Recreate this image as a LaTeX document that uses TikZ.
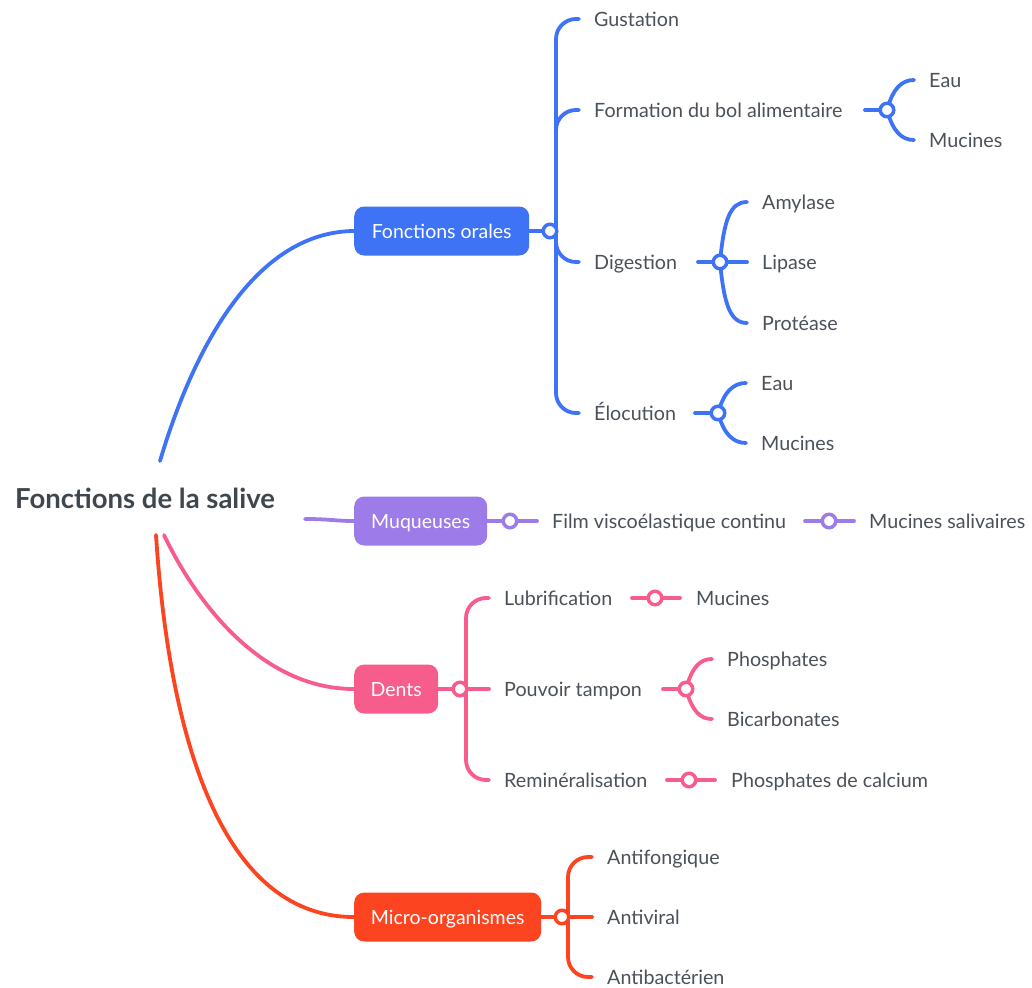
\documentclass[tikz,border=0pt]{standalone}
\usepackage{fontspec}
\setmainfont{Lato}
\pgfdeclarelayer{bg}
\pgfsetlayers{bg,main}
\definecolor{cblue}{HTML}{3E73F5}
\definecolor{cpurple}{HTML}{9D7BE9}
\definecolor{cpink}{HTML}{F65C8C}
\definecolor{cred}{HTML}{FC4421}
\definecolor{tgray}{HTML}{4B5158}
\definecolor{rgray}{HTML}{3F464D}
\begin{document}
\begin{tikzpicture}[x=1pt,y=-1pt,
  lbl/.style={anchor=west, inner sep=0pt, text height=14.1pt, text depth=0pt, text=tgray, font=\fontsize{19.7}{23}\selectfont},
  box/.style={anchor=west, rounded corners=10pt, minimum height=49pt, inner sep=0pt, text=white, text height=14pt, text depth=0pt, font=\fontsize{19.5}{23}\selectfont},
  jn/.style={circle, draw=#1, line width=3.5pt, fill=white, minimum size=13.5pt, inner sep=0pt},
  ln/.style={draw=#1, line width=3.8pt, line cap=round, rounded corners=20pt}]
\useasboundingbox (0,0) rectangle (1032,987);

% root
\node[anchor=west, inner sep=0pt, text height=19.7pt, text depth=0pt, text=rgray, font=\bfseries\fontsize{27.5}{32}\selectfont] (root) at (15,498.5) {Fonctions de la salive};
\coordinate (rb) at (160,461);
\coordinate (rp) at (305,519);
\coordinate (rk) at (164,535);
\coordinate (rr) at (156,535);

% main boxes
\node[box, fill=cblue, minimum width=175pt] (orales) at (354,231) {Fonctions orales};
\node[box, fill=cpurple, minimum width=133pt] (muq) at (354,521) {Muqueuses};
\node[box, fill=cpink, minimum width=84pt] (dents) at (354,689) {Dents};
\node[box, fill=cred, minimum width=187pt] (micro) at (354,917) {Micro-organismes};

% junctions
\node[jn=cblue] (jor) at (550,231) {};
\node[jn=cblue] (jbol) at (887,110) {};
\node[jn=cblue] (jdig) at (720,262) {};
\node[jn=cblue] (jelo) at (718,413) {};
\node[jn=cpurple] (jmuq) at (510,521) {};
\node[jn=cpurple] (jfilm) at (829,521) {};
\node[jn=cpink] (jden) at (460,689) {};
\node[jn=cpink] (jlub) at (655,598) {};
\node[jn=cpink] (jpou) at (686,689) {};
\node[jn=cpink] (jrem) at (689,780) {};
\node[jn=cred] (jmic) at (562,917) {};

% labels
\node[lbl] (gus) at (594,19) {Gustation};
\node[lbl] (bol) at (594,110) {Formation du bol alimentaire};
\node[lbl] (eau1) at (929,80) {Eau};
\node[lbl] (muc1) at (929,140) {Mucines};
\node[lbl] (dig) at (594,262) {Digestion};
\node[lbl] (amy) at (762,202) {Amylase};
\node[lbl] (lip) at (762,262) {Lipase};
\node[lbl] (pro) at (762,323) {Protéase};
\node[lbl] (elo) at (594,413) {Élocution};
\node[lbl] (eau2) at (761,383) {Eau};
\node[lbl] (muc2) at (761,443) {Mucines};
\node[lbl] (film) at (552,521) {Film viscoélastique continu};
\node[lbl] (musal) at (869,521) {Mucines salivaires};
\node[lbl] (lub) at (504,598) {Lubrification};
\node[lbl] (muc3) at (696,598) {Mucines};
\node[lbl] (pou) at (504,689) {Pouvoir tampon};
\node[lbl] (pho) at (727,659) {Phosphates};
\node[lbl] (bic) at (727,719) {Bicarbonates};
\node[lbl] (rem) at (504,780) {Reminéralisation};
\node[lbl] (phc) at (731,780) {Phosphates de calcium};
\node[lbl] (afo) at (607,857) {Antifongique};
\node[lbl] (avi) at (607,917) {Antiviral};
\node[lbl] (aba) at (607,977) {Antibactérien};

\begin{pgfonlayer}{bg}
% root connectors
\draw[ln=cblue] (rb) .. controls (190,360) and (250,232) .. (orales.west);
\draw[ln=cpurple] (rp) .. controls (330,519) and (335,521) .. (muq.west);
\draw[ln=cpink] (rk) .. controls (195,600) and (260,689) .. (dents.west);
\draw[ln=cred] (rr) .. controls (168,720) and (215,917) .. (micro.west);

% Fonctions orales
\draw[ln=cblue] (orales.east) -- (jor.center);
\draw[ln=cblue] ([xshift=6pt]jor.center) |- ([xshift=-15pt]gus.west);
\draw[ln=cblue] ([xshift=6pt]jor.center) |- ([xshift=-15pt]bol.west);
\draw[ln=cblue] ([xshift=6pt]jor.center) |- ([xshift=-15pt]dig.west);
\draw[ln=cblue] ([xshift=6pt]jor.center) |- ([xshift=-15pt]elo.west);
\draw[ln=cblue] ([xshift=-22pt]jbol.center) -- (jbol.center);
\draw[ln=cblue] (jbol.center) .. controls +(6,-22) and +(-12,0) .. ([xshift=-15pt]eau1.west);
\draw[ln=cblue] (jbol.center) .. controls +(6,22) and +(-12,0) .. ([xshift=-15pt]muc1.west);
\draw[ln=cblue] ([xshift=-22pt]jdig.center) -- ([xshift=-15pt]lip.west);
\draw[ln=cblue] (jdig.center) .. controls +(4,-42) and +(-17,0) .. ([xshift=-15pt]amy.west);
\draw[ln=cblue] (jdig.center) .. controls +(4,42) and +(-17,0) .. ([xshift=-15pt]pro.west);
\draw[ln=cblue] ([xshift=-23pt]jelo.center) -- (jelo.center);
\draw[ln=cblue] (jelo.center) .. controls +(6,-22) and +(-12,0) .. ([xshift=-15pt]eau2.west);
\draw[ln=cblue] (jelo.center) .. controls +(6,22) and +(-12,0) .. ([xshift=-15pt]muc2.west);

% Muqueuses
\draw[ln=cpurple] (muq.east) -- (jmuq.center) -- ([xshift=-15pt]film.west);
\draw[ln=cpurple] ([xshift=-24pt]jfilm.center) -- ([xshift=-15pt]musal.west);

% Dents
\draw[ln=cpink] (dents.east) -- (jden.center) -- ([xshift=-15pt]pou.west);
\draw[ln=cpink] ([xshift=6pt]jden.center) |- ([xshift=-15pt]lub.west);
\draw[ln=cpink] ([xshift=6pt]jden.center) |- ([xshift=-15pt]rem.west);
\draw[ln=cpink] ([xshift=-23pt]jlub.center) -- ([xshift=-16pt]muc3.west);
\draw[ln=cpink] ([xshift=-23pt]jpou.center) -- (jpou.center);
\draw[ln=cpink] (jpou.center) .. controls +(6,-22) and +(-12,0) .. ([xshift=-15pt]pho.west);
\draw[ln=cpink] (jpou.center) .. controls +(6,22) and +(-12,0) .. ([xshift=-15pt]bic.west);
\draw[ln=cpink] ([xshift=-22pt]jrem.center) -- ([xshift=-16pt]phc.west);

% Micro-organismes
\draw[ln=cred] (micro.east) -- (jmic.center) -- ([xshift=-15pt]avi.west);
\draw[ln=cred] ([xshift=6pt]jmic.center) |- ([xshift=-15pt]afo.west);
\draw[ln=cred] ([xshift=6pt]jmic.center) |- ([xshift=-15pt]aba.west);
\end{pgfonlayer}
\end{tikzpicture}
\end{document}
